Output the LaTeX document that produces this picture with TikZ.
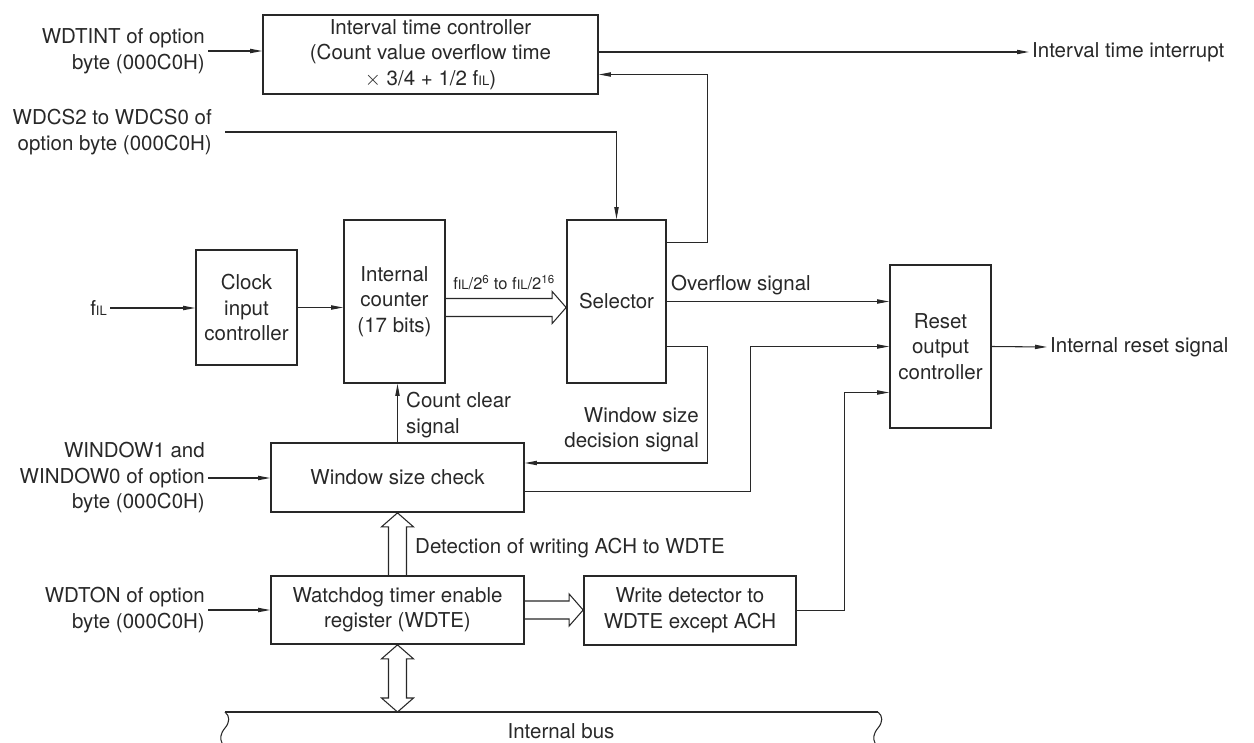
\documentclass[tikz,border=0pt]{standalone}
\usepackage{fontspec}
\setmainfont{TeX Gyre Heros}
\usepackage{xcolor}
\usepackage{tikz}
\usetikzlibrary{arrows.meta,calc}

\definecolor{ink}{RGB}{40,40,40}
\newcommand{\fil}{f{\fontsize{13}{13}\selectfont IL}}

\begin{document}
\begin{tikzpicture}[x=0.75pt,y=0.75pt,yscale=-1,xscale=1, every node/.style={scale=0.75},
  font=\fontsize{20.5}{25.5}\selectfont,
  blk/.style={draw=ink, line width=1.7pt, text=ink, align=center, inner sep=0pt},
  lbl/.style={text=ink, inner sep=3pt},
  sig/.style={draw=ink, line width=0.8pt, -{Triangle[length=9pt,width=3.2pt]}},
  wide/.style={draw=ink, line width=0.8pt, line join=miter}]
\useasboundingbox (0,0) rectangle (1254,743);

%Blocks
\node[blk, minimum width=335pt, minimum height=79pt] (itc) at (430.5,54.5) {Interval time controller\\(Count value overflow time\\$\times$ 3/4 + 1/2 \fil)};
\node[blk, minimum width=101pt, minimum height=115pt] (clk) at (246.5,307.5) {Clock\\input\\controller};
\node[blk, minimum width=101pt, minimum height=163pt] (cnt) at (394.5,301.5) {Internal\\counter\\(17 bits)};
\node[blk, minimum width=99pt, minimum height=163pt] (sel) at (616.5,301.5) {Selector};
\node[blk, minimum width=101pt, minimum height=163pt] (rst) at (940.5,346.5) {Reset\\output\\controller};
\node[blk, minimum width=253pt, minimum height=69pt] (win) at (397.5,477.5) {Window size check};
\node[blk, minimum width=253pt, minimum height=68pt] (wdte) at (397.5,610) {Watchdog timer enable\\register (WDTE)};
\node[blk, minimum width=212pt, minimum height=69pt] (wdet) at (690,610.5) {Write detector to\\WDTE except ACH};

%Labels
\node[lbl, anchor=east, align=right] (wdtint) at (208,51) {WDTINT of option\\byte (000C0H)};
\node[lbl, anchor=east, align=right, inner xsep=13pt] (wdcs) at (225,132) {WDCS2 to WDCS0 of\\option byte (000C0H)};
\node[lbl, anchor=east] (fil) at (110,308) {\fil};
\node[lbl, anchor=east, align=right] (wsel) at (208,478) {WINDOW1 and\\WINDOW0 of option\\byte (000C0H)};
\node[lbl, anchor=east, align=right] (wdton) at (208,610) {WDTON of option\\byte (000C0H)};
\node[lbl, anchor=west] (iti) at (1029,52) {Interval time interrupt};
\node[lbl, anchor=west] (irs) at (1047,347) {Internal reset signal};
\node[lbl, anchor=south west] (ovf) at (668,298) {Overflow signal};
\node[lbl, anchor=south, font=\fontsize{16.5}{20}\selectfont] (frq) at (504,293) {\fil/2\textsuperscript{6} to \fil/2\textsuperscript{16}};
\node[lbl, anchor=east, align=right] (wds) at (702,430) {Window size\\decision signal};
\node[lbl, anchor=west, align=left] (ccs) at (403,415) {Count clear\\signal};
\node[lbl, anchor=west] (det) at (412,548) {Detection of writing ACH to WDTE};
\node[lbl] (bus) at (561,731) {Internal bus};

%Signals
\draw[sig] (wdtint.east) -- (wdtint.east -| itc.west);
\draw[sig] (itc.east |- iti.west) -- (iti.west);
\draw[sig] (wdcs.east) -| (sel.north);
\draw[sig] ($(sel.north east)+(0,23)$) -- ++(41,0) |- ($(itc.east)+(0,20)$);
\draw[sig] (fil.east) -- (fil.east -| clk.west);
\draw[sig] (clk.east) -- (clk.east -| cnt.west);
\draw[sig] (sel.east) -- (sel.east -| rst.west);
\draw[sig] ($(sel.south east)+(0,-37)$) -- ++(41,0) |- ($(win.east)+(0,-14.5)$);
\draw[sig] ($(win.east)+(0,14)$) -- ++(226,0) |- (rst.west);
\draw[sig] (wdet.east) -- ++(48,0) |- ($(rst.west)+(0,46)$);
\draw[sig] (rst.east) -- (irs.west);
\draw[sig] (win.north) -- (win.north |- cnt.south);
\draw[sig] (wsel.east) -- (wsel.east -| win.west);
\draw[sig] (wdton.east) -- (wdton.east -| wdte.west);

%Wide arrows
\coordinate (ca) at (cnt.east |- clk.east);
\coordinate (cb) at (sel.west |- clk.east);
\draw[wide] ($(ca)+(0,-9)$) -- ($(cb)+(-14,-9)$) -- ($(cb)+(-14,-16)$) -- (cb) -- ($(cb)+(-14,16)$) -- ($(cb)+(-14,9)$) -- ($(ca)+(0,9)$);
\coordinate (wa) at (wdte.east);
\coordinate (wb) at (wdet.west |- wdte.east);
\draw[wide] ($(wa)+(0,-9)$) -- ($(wb)+(-14,-9)$) -- ($(wb)+(-14,-16)$) -- (wb) -- ($(wb)+(-14,16)$) -- ($(wb)+(-14,9)$) -- ($(wa)+(0,9)$);
\draw[wide] ($(wdte.north)+(-9,0)$) -- ($(win.south)+(-9,14)$) -- ($(win.south)+(-16,14)$) -- (win.south) -- ($(win.south)+(16,14)$) -- ($(win.south)+(9,14)$) -- ($(wdte.north)+(9,0)$);

%Internal bus
\coordinate (busl) at (225,712);
\coordinate (busr) at (878,712);
\draw[wide] (busl) -- (busr);
\draw[wide] (busl) .. controls (230,716) and (230,722) .. (225,728) .. controls (220,734) and (220,739) .. (222,743);
\draw[wide] (busr) .. controls (883,716) and (883,722) .. (878,728) .. controls (873,734) and (873,739) .. (875,743);
\coordinate (ba) at (wdte.south);
\coordinate (bb) at (wdte.south |- busl);
\draw[wide] (ba) -- ++(16,14) -- ++(-7,0) -- ($(bb)+(9,-14)$) -- ++(7,0) -- (bb) -- ++(-16,-14) -- ++(7,0) -- ($(ba)+(-9,14)$) -- ++(-7,0) -- cycle;

\end{tikzpicture}
\end{document}
